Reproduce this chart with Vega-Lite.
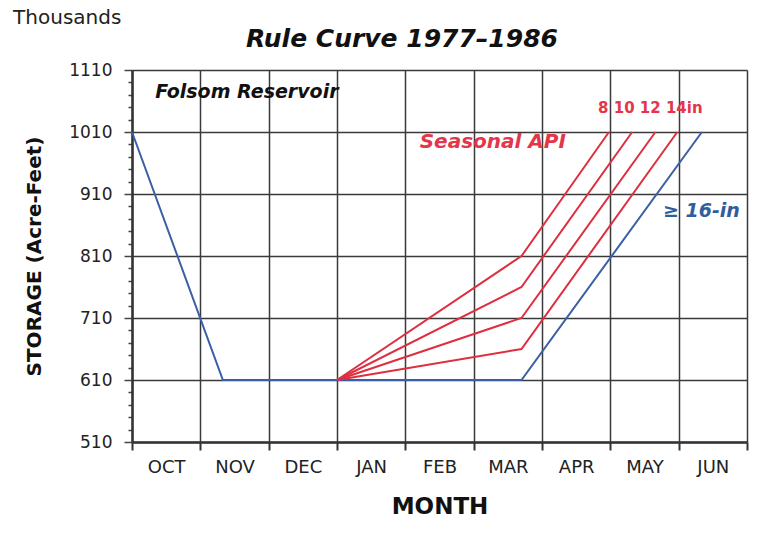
{
  "$schema": "https://vega.github.io/schema/vega-lite/v6.json",
  "width": 615,
  "height": 372,
  "autosize": "none",
  "padding": {"left": 132, "top": 70, "right": 22, "bottom": 91},
  "background": "white",
  "config": {
    "font": "DejaVu Sans",
    "view": {"stroke": null}
  },
  "encoding": {
    "x": {
      "field": "x",
      "type": "quantitative",
      "scale": {"domain": [0, 9], "nice": false, "zero": false},
      "axis": {
        "values": [0, 0.5, 1, 1.5, 2, 2.5, 3, 3.5, 4, 4.5, 5, 5.5, 6, 6.5, 7, 7.5, 8, 8.5, 9],
        "labelExpr": "datum.value % 1 !== 0 ? ['OCT','NOV','DEC','JAN','FEB','MAR','APR','MAY','JUN'][floor(datum.value)] : ''",
        "labelFlush": false,
        "labelOverlap": false,
        "labelFontSize": 18,
        "labelColor": "#222",
        "labelPadding": 8,
        "grid": true,
        "gridColor": "#3a3a3a",
        "gridWidth": 1.5,
        "gridOpacity": {"condition": {"test": "datum.value % 1 !== 0", "value": 0}, "value": 1},
        "ticks": true,
        "tickSize": 8,
        "tickWidth": 2,
        "tickColor": "#333",
        "tickOpacity": {"condition": {"test": "datum.value % 1 !== 0", "value": 0}, "value": 1},
        "domainColor": "#333",
        "domainWidth": 2.5,
        "title": "MONTH",
        "titleFontSize": 23,
        "titleFontWeight": "bold",
        "titleColor": "#111",
        "titlePadding": 19
      }
    },
    "y": {
      "field": "y",
      "type": "quantitative",
      "scale": {"domain": [510, 1110], "nice": false, "zero": false},
      "axis": {
        "values": [510, 530, 550, 570, 590, 610, 630, 650, 670, 690, 710, 730, 750, 770, 790, 810, 830, 850, 870, 890, 910, 930, 950, 970, 990, 1010, 1030, 1050, 1070, 1090, 1110],
        "format": "d",
        "labelExpr": "(datum.value - 510) % 100 === 0 ? datum.label : ''",
        "labelOverlap": false,
        "labelFontSize": 17,
        "labelColor": "#222",
        "labelPadding": 12,
        "grid": true,
        "gridColor": "#3a3a3a",
        "gridWidth": 1.5,
        "gridOpacity": {"condition": {"test": "(datum.value - 510) % 100 === 0", "value": 1}, "value": 0},
        "tickSize": {"condition": {"test": "(datum.value - 510) % 100 === 0", "value": 8}, "value": 4},
        "tickWidth": 1.5,
        "tickColor": "#444",
        "domainColor": "#333",
        "domainWidth": 2.5,
        "title": "STORAGE (Acre-Feet)",
        "titleFontSize": 20,
        "titleFontWeight": "bold",
        "titleColor": "#111",
        "titlePadding": 24
      }
    }
  },
  "layer": [
    {
      "data": {
        "values": [
          {"series": "≥16in", "x": 0, "y": 1010},
          {"series": "≥16in", "x": 1.33, "y": 610},
          {"series": "≥16in", "x": 5.7, "y": 610},
          {"series": "≥16in", "x": 8.34, "y": 1010},
          {"series": "8in", "x": 3.0, "y": 610},
          {"series": "8in", "x": 5.7, "y": 810},
          {"series": "8in", "x": 6.98, "y": 1010},
          {"series": "10in", "x": 3.0, "y": 610},
          {"series": "10in", "x": 5.7, "y": 760},
          {"series": "10in", "x": 7.32, "y": 1010},
          {"series": "12in", "x": 3.0, "y": 610},
          {"series": "12in", "x": 5.7, "y": 710},
          {"series": "12in", "x": 7.66, "y": 1010},
          {"series": "14in", "x": 3.0, "y": 610},
          {"series": "14in", "x": 5.7, "y": 660},
          {"series": "14in", "x": 7.98, "y": 1010}
        ]
      },
      "mark": {"type": "line", "strokeWidth": 2},
      "encoding": {
        "color": {
          "field": "series",
          "type": "nominal",
          "scale": {
            "domain": ["≥16in", "8in", "10in", "12in", "14in"],
            "range": ["#3a5fa6", "#dd2f40", "#dd2f40", "#dd2f40", "#dd2f40"]
          },
          "legend": null
        }
      }
    },
    {
      "data": {"values": [{"label": "Thousands", "x": -1.74, "y": 1194}]},
      "mark": {"type": "text", "align": "left", "baseline": "middle", "clip": false, "fontSize": 20, "color": "#222"},
      "encoding": {"text": {"field": "label"}}
    },
    {
      "data": {"values": [{"label": "Rule Curve 1977–1986", "x": 3.95, "y": 1160}]},
      "mark": {"type": "text", "align": "center", "baseline": "middle", "clip": false, "fontSize": 25, "fontStyle": "italic", "fontWeight": "bold", "color": "#111"},
      "encoding": {"text": {"field": "label"}}
    },
    {
      "data": {"values": [{"label": "Folsom Reservoir", "x": 0.34, "y": 1075}]},
      "mark": {"type": "text", "align": "left", "baseline": "middle", "clip": false, "fontSize": 19, "fontStyle": "italic", "fontWeight": "bold", "color": "#111"},
      "encoding": {"text": {"field": "label"}}
    },
    {
      "data": {"values": [{"label": "Seasonal API", "x": 4.21, "y": 994}]},
      "mark": {"type": "text", "align": "left", "baseline": "middle", "clip": false, "fontSize": 20, "fontStyle": "italic", "fontWeight": "bold", "color": "#e3364a"},
      "encoding": {"text": {"field": "label"}}
    },
    {
      "data": {"values": [{"label": "8 10 12 14in", "x": 6.82, "y": 1049}]},
      "mark": {"type": "text", "align": "left", "baseline": "middle", "clip": false, "fontSize": 15, "fontWeight": "bold", "color": "#e3364a"},
      "encoding": {"text": {"field": "label"}}
    },
    {
      "data": {"values": [{"label": "≥ 16-in", "x": 7.77, "y": 883}]},
      "mark": {"type": "text", "align": "left", "baseline": "middle", "clip": false, "fontSize": 19, "fontStyle": "italic", "fontWeight": "bold", "color": "#2f5d9e"},
      "encoding": {"text": {"field": "label"}}
    }
  ]
}
